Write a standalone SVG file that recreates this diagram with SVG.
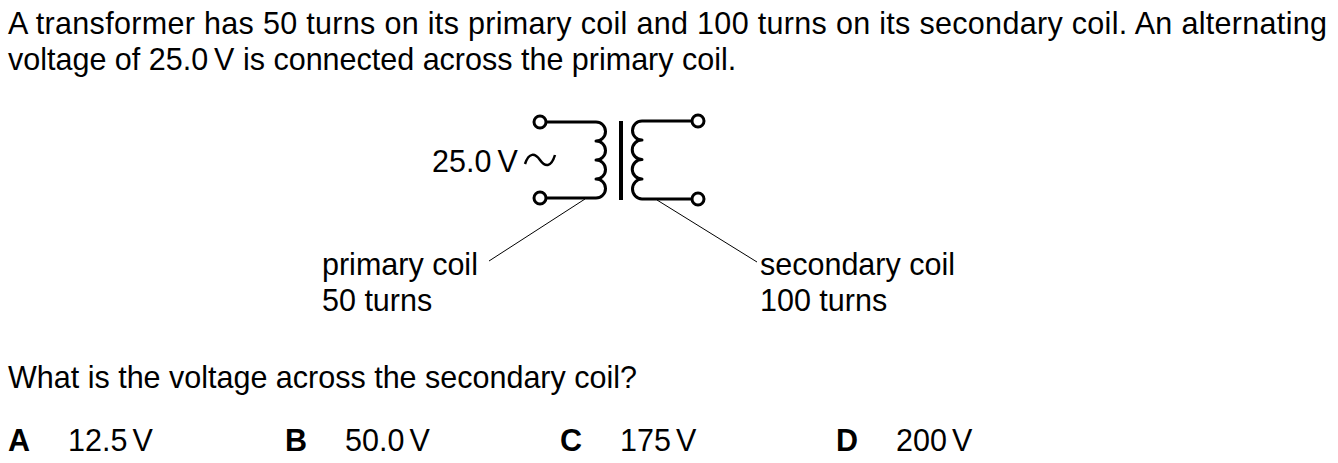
<svg xmlns="http://www.w3.org/2000/svg" width="1338" height="463" viewBox="0 0 1338 463">
<style>
text{font-family:"Liberation Sans",Arial,sans-serif;font-size:30.5px;fill:#000}
.b{font-weight:bold}
.w{fill:none;stroke:#000;stroke-width:3;stroke-linejoin:round}
.t{fill:#fff;stroke:#000;stroke-width:3}
.l{fill:none;stroke:#000;stroke-width:1}
</style>
<rect width="1338" height="463" fill="#fff"/>
<g id="question">
<text x="8" y="34" textLength="1319" lengthAdjust="spacing">A transformer has 50 turns on its primary coil and 100 turns on its secondary coil. An alternating</text>
<text x="8" y="70">voltage of 25.0<tspan dx="6">V</tspan> is connected across the primary coil.</text>
</g>
<g id="supply-label">
<text x="432" y="172">25.0<tspan dx="6">V</tspan></text>
<path class="w" style="stroke-width:2.5" d="M525,164 C529,152 535,153 540,160 C545,167 551,168 555,155"/>
</g>
<g id="primary-coil">
<path class="w" d="M546,122 H596 A9.5,9.5 0 0 1 596,141 A9.5,9.5 0 0 1 596,160 A9.5,9.5 0 0 1 596,179 A9.5,9.5 0 0 1 596,198 H546"/>
<circle class="t" cx="540" cy="122" r="6"/>
<circle class="t" cx="540" cy="198" r="6"/>
</g>
<g id="core">
<rect x="619" y="121" width="4" height="79" fill="#000"/>
</g>
<g id="secondary-coil">
<path class="w" d="M692,121 H642 A9.5,9.5 0 0 0 642,140 A9.5,9.5 0 0 0 642,159.5 A9.5,9.5 0 0 0 642,179 A9.5,10 0 0 0 642,199 H692"/>
<circle class="t" cx="698" cy="121" r="6"/>
<circle class="t" cx="698" cy="199" r="6"/>
</g>
<g id="connectors">
<line class="l" x1="585" y1="199" x2="489" y2="261"/>
<line class="l" x1="657" y1="200" x2="757" y2="262"/>
</g>
<g id="primary-label">
<text x="322" y="275">primary coil</text>
<text x="322" y="311">50 turns</text>
</g>
<g id="secondary-label">
<text x="760" y="275">secondary coil</text>
<text x="760" y="311">100 turns</text>
</g>
<g id="prompt">
<text x="8" y="388">What is the voltage across the secondary coil?</text>
</g>
<g id="options">
<text class="b" x="8" y="451">A</text>
<text x="68" y="451">12.5<tspan dx="5">V</tspan></text>
<text class="b" x="285" y="451">B</text>
<text x="345" y="451">50.0<tspan dx="5">V</tspan></text>
<text class="b" x="560" y="451">C</text>
<text x="620" y="451">175<tspan dx="5">V</tspan></text>
<text class="b" x="836" y="451">D</text>
<text x="896" y="451">200<tspan dx="5">V</tspan></text>
</g>
</svg>
